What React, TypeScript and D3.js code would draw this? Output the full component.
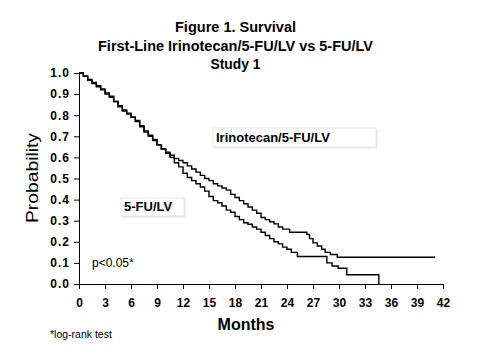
import React from "react";
import * as d3 from "d3";

// Kaplan-Meier estimates: [month, survival probability]
const irinotecanCurve: [number, number][] = [
    [0, 1.0], [0.5, 0.985], [1, 0.97], [1.5, 0.955], [2, 0.94], [2.5, 0.925],
    [3, 0.905], [3.5, 0.89], [4, 0.865], [4.5, 0.845], [5, 0.825], [5.5, 0.81],
    [6, 0.79], [6.5, 0.77], [7, 0.745], [7.5, 0.725], [8, 0.705], [8.5, 0.685],
    [9, 0.66], [9.5, 0.64], [10, 0.625], [10.5, 0.61], [11, 0.595], [11.5, 0.585],
    [12, 0.575], [12.5, 0.56], [13, 0.545], [13.5, 0.53], [14, 0.515], [14.5, 0.5],
    [15, 0.49], [15.5, 0.475], [16, 0.465], [16.5, 0.455], [17, 0.445], [17.5, 0.425],
    [18, 0.41], [18.5, 0.395], [19, 0.38], [19.5, 0.365], [20, 0.35], [20.5, 0.335],
    [21, 0.315], [21.5, 0.305], [22, 0.295], [22.5, 0.285], [23, 0.27], [23.5, 0.26],
    [24.3, 0.245], [26.3, 0.235], [26.6, 0.215], [27, 0.195], [27.5, 0.18], [28, 0.165],
    [28.4, 0.15], [29, 0.14], [29.8, 0.127], [41.1, 0.127],
];

const fuLvCurve: [number, number][] = [
    [0, 1.0], [0.5, 0.985], [1, 0.965], [1.5, 0.95], [2, 0.935], [2.5, 0.92],
    [3, 0.9], [3.5, 0.885], [4, 0.865], [4.5, 0.84], [5, 0.82], [5.5, 0.805],
    [6, 0.79], [6.5, 0.775], [7, 0.75], [7.5, 0.72], [8, 0.7], [8.5, 0.68],
    [9, 0.66], [9.5, 0.64], [10, 0.62], [10.5, 0.6], [11, 0.575], [11.5, 0.555],
    [12, 0.525], [12.5, 0.505], [13, 0.49], [13.5, 0.475], [14, 0.46], [14.5, 0.44],
    [15, 0.415], [15.5, 0.395], [16, 0.385], [16.5, 0.37], [17, 0.35], [17.5, 0.34],
    [18, 0.32], [18.5, 0.305], [19, 0.29], [19.5, 0.283], [20, 0.27], [20.5, 0.26],
    [21, 0.245], [21.5, 0.23], [22, 0.215], [22.5, 0.2], [23, 0.19], [23.5, 0.175],
    [24, 0.165], [24.5, 0.15], [25.2, 0.13], [28.3, 0.13], [28.6, 0.1], [29.2, 0.085],
    [29.9, 0.075], [30.9, 0.044], [34.6, 0.044], [34.6, 0],
];

const xTicks = d3.range(0, 43, 3);
const yTicks = d3.range(0, 11).map((d) => d / 10);
const titleLines = ["Figure 1. Survival", "First-Line Irinotecan/5-FU/LV vs 5-FU/LV", "Study 1"];
const titleWidths = [121, 275, 50];

export default function App() {
    const ref = React.useRef<SVGSVGElement>(null);

    React.useEffect(() => {
        const width = 488;
        const height = 358;
        const marginLeft = 79;
        const marginRight = 45;
        const marginTop = 73;
        const marginBottom = 74;
        const font = "'Liberation Sans', Arial, sans-serif";

        const svg = d3.select(ref.current)
            .attr("width", width)
            .attr("height", height)
            .attr("viewBox", [0, 0, width, height])
            .style("font-family", font);
        svg.selectAll("*").remove();

        svg.append("rect").attr("width", width).attr("height", height).attr("fill", "#fff");

        const x = d3.scaleLinear().domain([0, 42]).range([marginLeft, width - marginRight]);
        const y = d3.scaleLinear().domain([0, 1]).range([height - marginBottom, marginTop]);

        // title
        svg.append("g")
            .selectAll("text")
            .data(titleLines)
            .join("text")
            .attr("x", 235.5)
            .attr("y", (d, i) => 32 + i * 18.5)
            .attr("text-anchor", "middle")
            .attr("font-size", 14)
            .attr("font-weight", "bold")
            .attr("textLength", (d, i) => titleWidths[i])
            .attr("lengthAdjust", "spacingAndGlyphs")
            .text((d) => d);

        // x axis
        svg.append("g")
            .attr("transform", `translate(0,${y(0)})`)
            .call(d3.axisBottom(x).tickValues(xTicks).tickSize(5).tickSizeOuter(0).tickPadding(9))
            .call((g) => g.selectAll("text")
                .attr("font-size", 12)
                .attr("font-weight", "bold")
                .attr("font-family", font)
                .attr("fill", "#000"))
            .call((g) => g.selectAll("line, path").attr("stroke", "#000"));

        // y axis
        svg.append("g")
            .attr("transform", `translate(${x(0)},0)`)
            .call(d3.axisLeft(y).tickValues(yTicks).tickFormat(d3.format(".1f")).tickSize(5).tickSizeOuter(0).tickPadding(4))
            .call((g) => g.selectAll("text")
                .attr("font-size", 12)
                .attr("font-weight", "bold")
                .attr("font-family", font)
                .attr("letter-spacing", 1)
                .attr("fill", "#000"))
            .call((g) => g.selectAll("line, path").attr("stroke", "#000"));

        // axis titles
        svg.append("text")
            .attr("x", 246)
            .attr("y", 330)
            .attr("text-anchor", "middle")
            .attr("font-size", 16)
            .attr("font-weight", "bold")
            .text("Months");

        svg.append("text")
            .attr("transform", "translate(38,178) rotate(-90)")
            .attr("text-anchor", "middle")
            .attr("font-size", 16)
            .attr("textLength", 90)
            .attr("lengthAdjust", "spacingAndGlyphs")
            .text("Probability");

        // survival curves
        const line = d3.line<[number, number]>()
            .x((d) => x(d[0]))
            .y((d) => y(d[1]))
            .curve(d3.curveStepAfter);

        svg.append("g")
            .attr("fill", "none")
            .attr("stroke", "#000")
            .attr("stroke-width", 1.4)
            .selectAll("path")
            .data([irinotecanCurve, fuLvCurve])
            .join("path")
            .attr("d", (d) => line(d));

        // labels
        const labels = [
            { text: "Irinotecan/5-FU/LV", x0: 213, y0: 128, w: 163, h: 19 },
            { text: "5-FU/LV", x0: 121, y0: 198, w: 63, h: 18 },
        ];
        const lg = svg.append("g").selectAll("g").data(labels).join("g");
        lg.append("rect")
            .attr("x", (d) => d.x0 + 1.5)
            .attr("y", (d) => d.y0 + 1.5)
            .attr("width", (d) => d.w)
            .attr("height", (d) => d.h)
            .attr("fill", "#e4e4e4");
        lg.append("rect")
            .attr("x", (d) => d.x0)
            .attr("y", (d) => d.y0)
            .attr("width", (d) => d.w)
            .attr("height", (d) => d.h)
            .attr("fill", "#fff")
            .attr("stroke", "#e6e6e6");
        lg.append("text")
            .attr("x", (d) => d.x0 + 3)
            .attr("y", (d) => d.y0 + d.h - 5)
            .attr("font-size", 13)
            .attr("font-weight", "bold")
            .text((d) => d.text);

        svg.append("text")
            .attr("x", 92)
            .attr("y", 267)
            .attr("font-size", 12)
            .text("p<0.05*");

        svg.append("text")
            .attr("x", 50)
            .attr("y", 338)
            .attr("font-size", 10.5)
            .text("*log-rank test");
    }, []);

    return (
        <svg ref={ref} style={{ position: "absolute", left: 0, top: 0, display: "block" }}></svg>
    );
}
